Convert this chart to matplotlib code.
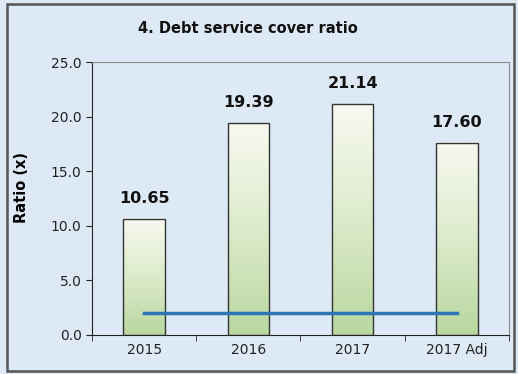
import matplotlib
matplotlib.use("Agg")
import matplotlib.pyplot as plt
import numpy as np
from matplotlib.colors import LinearSegmentedColormap
from matplotlib.patches import Rectangle

# data
years = ["2015", "2016", "2017", "2017 Adj"]
ratios = [10.65, 19.39, 21.14, 17.60]
covenant = [2.0, 2.0, 2.0, 2.0]

bg = "#dde9f4"
fig = plt.figure(figsize=(5.18, 3.74), dpi=100, facecolor=bg)
ax = fig.add_axes([0.1776, 0.1043, 0.805, 0.7297])
ax.set_facecolor(bg)

# outer frame
fig.patches.append(Rectangle((0.014, 0.008), 0.978, 0.982, transform=fig.transFigure,
                             fill=False, edgecolor="#555555", linewidth=1.8))

grad = LinearSegmentedColormap.from_list("g", ["#b9d7a0", "#dcebcb", "#f8f8f0"])
x = np.arange(len(years))
w = 0.4
bars = ax.bar(x, ratios, width=w, color="none", edgecolor="#333333", linewidth=1, zorder=3)
for b in bars:
    x0, y0 = b.get_x(), b.get_y()
    ax.imshow(np.linspace(0, 1, 100).reshape(-1, 1), cmap=grad, origin="lower",
              extent=[x0, x0 + b.get_width(), y0, y0 + b.get_height()],
              aspect="auto", zorder=2)

ax.plot(x, covenant, color="#2e75b6", linewidth=2.5, zorder=4)

for xi, v in zip(x, ratios):
    ax.text(xi, v + 1.2, "%.2f" % v, ha="center", va="bottom",
            fontsize=11.5, fontweight="bold", color="#111111")

ax.set_xlim(-0.5, 3.5)
ax.set_ylim(0, 25)
ax.set_yticks(np.arange(0, 25.1, 5))
ax.set_yticklabels(["%.1f" % t for t in np.arange(0, 25.1, 5)], fontsize=10, color="#222222")
ax.set_xticks(x)
ax.set_xticklabels(years, fontsize=10, color="#222222")
ax.set_xticks(np.arange(-0.5, 3.6, 1), minor=True)
ax.tick_params(axis="x", which="major", length=0, pad=6)
ax.tick_params(axis="x", which="minor", length=4, direction="out", color="#222222")
ax.tick_params(axis="y", length=4, direction="out", color="#222222")

for s in ["left", "bottom"]:
    ax.spines[s].set_color("#222222")
for s in ["top", "right"]:
    ax.spines[s].set_color("#8a8a8a")

ax.set_ylabel("Ratio (x)", fontsize=10.5, fontweight="bold")
ax.yaxis.set_label_coords(-0.15, 0.54)
fig.text(0.479, 0.925, "4. Debt service cover ratio", ha="center", va="center",
         fontsize=10.5, fontweight="bold", color="#111111")

fig.savefig("out.png", dpi=100, facecolor=bg)
